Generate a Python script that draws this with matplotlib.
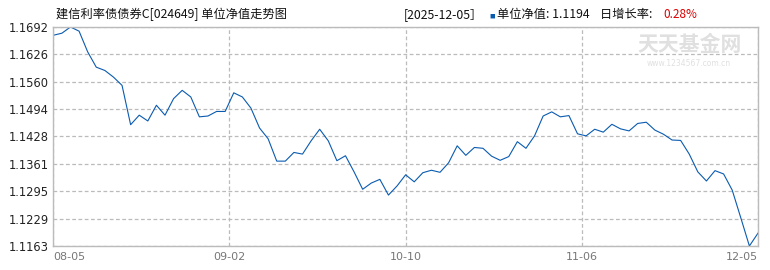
import numpy as np
import matplotlib
matplotlib.use('Agg')
from matplotlib import pyplot as plt

# unit NAV, one value per trading day 2025-08-05 .. 2025-12-05
nav = [1.1672, 1.1677, 1.1692, 1.1682, 1.1632, 1.1595, 1.1587, 1.1571, 1.1551, 1.1456,
       1.1479, 1.1465, 1.1503, 1.1479, 1.1519, 1.1539, 1.1523, 1.1475, 1.1477, 1.1488,
       1.1488, 1.1533, 1.1523, 1.1496, 1.1448, 1.1422, 1.1368, 1.1368, 1.1389, 1.1385,
       1.1417, 1.1445, 1.1417, 1.1369, 1.1381, 1.1342, 1.1300, 1.1315, 1.1324, 1.1286,
       1.1308, 1.1335, 1.1318, 1.1340, 1.1346, 1.1341, 1.1364, 1.1405, 1.1382, 1.1401,
       1.1399, 1.1380, 1.1370, 1.1379, 1.1415, 1.1399, 1.1429, 1.1477, 1.1487, 1.1475,
       1.1478, 1.1434, 1.1429, 1.1445, 1.1438, 1.1457, 1.1446, 1.1441, 1.1459, 1.1462,
       1.1443, 1.1433, 1.1419, 1.1418, 1.1385, 1.1342, 1.1320, 1.1345, 1.1337, 1.1298,
       1.1231, 1.1163, 1.1194]
x_labels = ['08-05', '09-02', '10-10', '11-06', '12-05']
y_labels = ['1.1163', '1.1229', '1.1295', '1.1361', '1.1428', '1.1494', '1.1560', '1.1626', '1.1692']

title = '建信利率债债券C[024649] 单位净值走势图'
last_date = '2025-12-05'
last_nav = 1.1194
last_change = '0.28%'

cjk = ['Noto Sans CJK SC', 'DejaVu Sans']
grid_c = '#bbbbbb'
line_c = '#0a5bb0'

fig = plt.figure(figsize=(7.7, 2.7), dpi=100)
ax = fig.add_axes([0.0692, 0.0889, 0.9152, 0.8111])

x = np.arange(len(nav))
ax.plot(x, nav, color=line_c, linewidth=0.8)

ymin, ymax = min(nav), max(nav)
ax.set_ylim(ymin, ymax)
ax.set_xlim(0, len(nav) - 1)
ax.set_yticks(np.linspace(ymin, ymax, len(y_labels)))
ax.set_yticklabels(y_labels, fontsize=8.3, color='#222222')
xt = np.linspace(0, len(nav) - 1, len(x_labels))
ax.set_xticks(xt)
ax.set_xticklabels(x_labels, fontsize=8, color='#777777')
labs = ax.get_xticklabels()
labs[0].set_ha('left')
labs[-1].set_ha('right')
ax.tick_params(length=0, pad=3)
ax.tick_params(axis='x', pad=4)

ax.grid(True, color=grid_c, linestyle=(0, (3, 2)), linewidth=0.9)
for s in ax.spines.values():
    s.set_color(grid_c)
    s.set_linewidth(1)

# watermark
fig.text(0.895, 0.835, '天天基金网', family=cjk, fontsize=15, color='#e0e0e0',
         ha='center', va='center', fontweight='bold')
fig.text(0.895, 0.765, 'www.1234567.com.cn', fontsize=5.5, color='#e0e0e0',
         ha='center', va='center')

# header
fig.text(0.073, 0.948, title, family=cjk, fontsize=8.8, color='#111111', va='center')
fig.text(0.524, 0.948, '[' + last_date + '］', family=cjk, fontsize=8.8, color='#111111', va='center')
fig.text(0.636, 0.941, '■', family=cjk, fontsize=4, color=line_c, va='center')
fig.text(0.645, 0.948, '单位净值: %.4f' % last_nav, family=cjk, fontsize=8.8, color='#111111', va='center')
fig.text(0.779, 0.948, '日增长率: ', family=cjk, fontsize=8.8, color='#111111', va='center')
fig.text(0.861, 0.948, last_change, family=cjk, fontsize=8.5, color='#dd0000', va='center')

fig.savefig('out.png', dpi=100)
